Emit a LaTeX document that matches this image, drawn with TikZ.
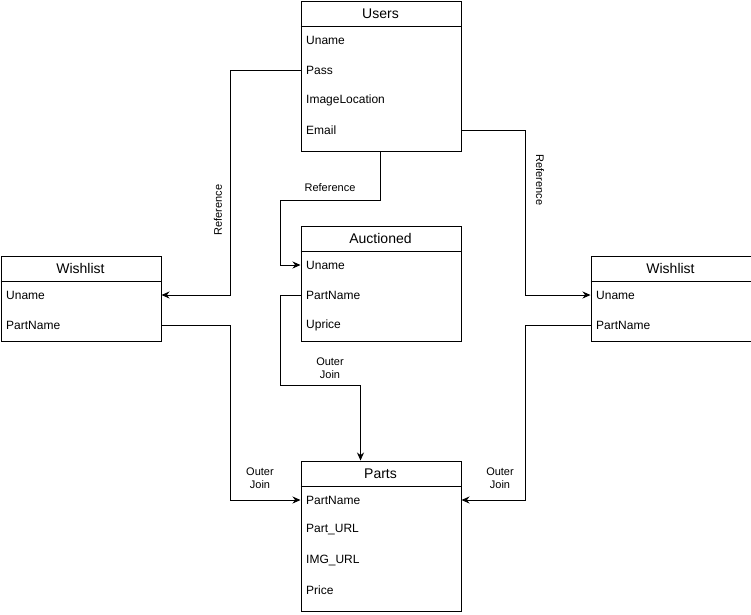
\documentclass[tikz,border=0pt]{standalone}
\usepackage{fontspec}
\setmainfont{Liberation Sans}
\usetikzlibrary{arrows.meta}
\begin{document}
\begin{tikzpicture}[x=1pt,y=-1pt,
  tbl/.style={draw,line width=1pt,fill=white,minimum width=160pt,inner sep=0pt,anchor=north west},
  title/.style={font=\fontsize{14}{16}\selectfont,anchor=center},
  row/.style={font=\fontsize{12}{14}\selectfont,anchor=west,inner sep=0pt},
  lbl/.style={font=\fontsize{11}{13}\selectfont,align=center,inner sep=0pt},
  link/.style={line width=1pt,-{Stealth[length=8pt,width=7pt]}}]
\useasboundingbox (0,0) rectangle (751,614);

% Users table
\node[tbl,minimum height=150pt] (users) at (300.5,0.5) {};
\draw[line width=1pt] (300.5,26) -- (460.5,26);
\node[title] (usersT) at (380.5,13.5) {Users};
\node[row] (uUname) at (306,40) {Uname};
\node[row] (uPass) at (306,70) {Pass};
\node[row] (uImg) at (306,100) {ImageLocation};
\node[row] (uEmail) at (306,130) {Email};

% Wishlist (left)
\node[tbl,minimum height=85pt] (wl) at (0.5,255.5) {};
\draw[line width=1pt] (0.5,281) -- (160.5,281);
\node[title] (wlT) at (80.5,268.5) {Wishlist};
\node[row] (wlUname) at (6,295) {Uname};
\node[row] (wlPart) at (6,325) {PartName};

% Auctioned
\node[tbl,minimum height=115pt] (auc) at (300.5,225.5) {};
\draw[line width=1pt] (300.5,251) -- (460.5,251);
\node[title] (aucT) at (380.5,238.5) {Auctioned};
\node[row] (aUname) at (306,265) {Uname};
\node[row] (aPart) at (306,295) {PartName};
\node[row] (aPrice) at (306,325) {Uprice};

% Wishlist (right)
\node[tbl,minimum height=85pt] (wr) at (590.5,255.5) {};
\draw[line width=1pt] (590.5,281) -- (750.5,281);
\node[title] (wrT) at (670.5,268.5) {Wishlist};
\node[row] (wrUname) at (596,295) {Uname};
\node[row] (wrPart) at (596,325) {PartName};

% Parts
\node[tbl,minimum height=150pt] (parts) at (300.5,460.5) {};
\draw[line width=1pt] (300.5,486) -- (460.5,486);
\node[title] (partsT) at (380.5,473.5) {Parts};
\node[row] (pPart) at (306,500) {PartName};
\node[row] (pUrl) at (306,530) {Part\_URL};
\node[row] (pImg) at (306,560) {IMG\_URL};
\node[row] (pPrice) at (306,590) {Price};

% Reference links
\draw[link] (users.west |- uPass) -- (230.5,70) -- (230.5,295) -- (wl.east |- wlUname);
\node[lbl,rotate=90] (ref1) at (218,210) {Reference};

\draw[link] (users.south -| 380.5,0) -- (380.5,200.5) -- (280.5,200.5) -- (280.5,265) -- (auc.west |- aUname);
\node[lbl] (ref2) at (330,188) {Reference};

\draw[link] (users.east |- uEmail) -- (525.5,130) -- (525.5,295) -- (wr.west |- wrUname);
\node[lbl,rotate=-90] (ref3) at (540,180) {Reference};

% Outer joins
\draw[link] (wl.east |- wlPart) -- (230.5,325) -- (230.5,500) -- (parts.west |- pPart);
\node[lbl] (oj1) at (260,478) {Outer\\Join};

\draw[link] (auc.west |- aPart) -- (280.5,295) -- (280.5,385.5) -- (360.5,385.5) -- (parts.north -| 360.5,0);
\node[lbl] (oj2) at (330,368) {Outer\\Join};

\draw[link] (wr.west |- wrPart) -- (525.5,325) -- (525.5,500) -- (parts.east |- pPart);
\node[lbl] (oj3) at (500,478) {Outer\\Join};
\end{tikzpicture}
\end{document}
